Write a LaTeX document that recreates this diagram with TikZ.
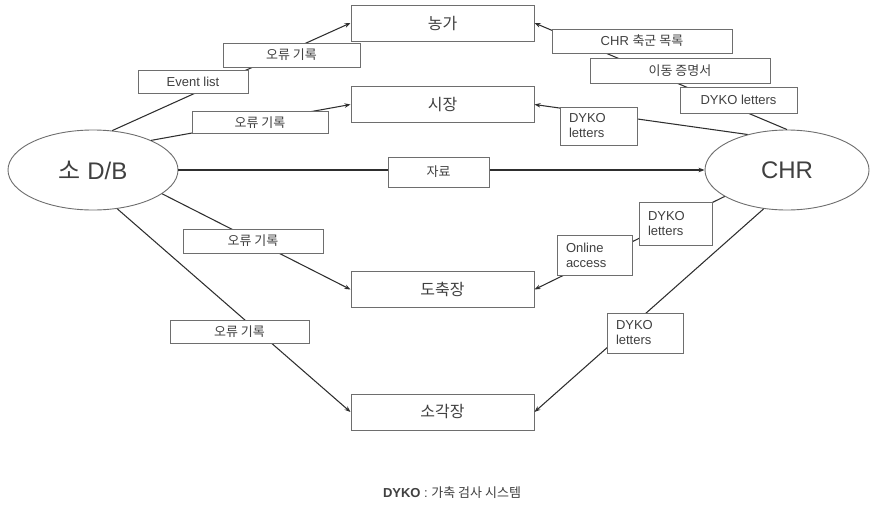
\documentclass[tikz,border=0pt]{standalone}
\usepackage{fontspec}
\setmainfont{Liberation Sans}
\newfontfamily\kr{Noto Sans CJK KR}
\usetikzlibrary{arrows.meta,shapes.geometric}

\definecolor{edgegray}{HTML}{6E6E6E}
\definecolor{wiregray}{HTML}{2E2E2E}
\definecolor{inkgray}{HTML}{404040}

\begin{document}
\begin{tikzpicture}[x=1pt,y=-1pt,
  every node/.style={inner sep=0pt, text=inkgray},
  site/.style={draw=edgegray, line width=1pt, fill=white,
    minimum width=183pt, minimum height=36pt,
    font=\kr\fontsize{16}{18}\selectfont},
  hub/.style={ellipse, draw=edgegray, line width=0.9pt, fill=white,
    minimum height=80pt, font=\fontsize{24}{28}\selectfont},
  tagbox/.style={draw=edgegray, line width=0.9pt, fill=white,
    font=\fontsize{13}{15}\selectfont},
  tagkr/.style={tagbox, font=\kr\fontsize{13}{15}\selectfont},
  stackbox/.style={tagbox, align=left, inner xsep=9pt,
    font=\fontsize{13}{15}\selectfont},
  flow/.style={draw=wiregray, line width=1.05pt,
    -{Stealth[length=6pt,width=4.5pt]}},
]
\useasboundingbox (0,0) rectangle (870,506);
\fill[white] (0,0) rectangle (870,506);

% databases
\node[hub, minimum width=170pt] (db)  at (93,170)  {{\kr 소} D/B};
\node[hub, minimum width=164pt] (chr) at (787,170) {CHR};

% destinations
\node[site] (farm)      at (442.5,23)    {농가};
\node[site] (market)    at (442.5,104.5) {시장};
\node[site] (slaughter) at (442.5,289.5) {도축장};
\node[site] (incin)     at (442.5,412)   {소각장};

% connectors from the cattle database
\draw[flow] (db.64.6) -- (farm.west);
\draw[flow] (db.27.8) -- (market.west);
\draw[flow] (db.east) -- (chr.west);
\draw[flow] (db.-19.7) -- (slaughter.west);
\draw[flow] (db.-58) -- (incin.west);

% connectors from CHR
\draw[flow] (chr.90) -- (farm.east);
\draw[flow] (chr.138.8) -- (market.east);
\draw[flow] (chr.203) -- (slaughter.east);
\draw[flow] (chr.239) -- (incin.east);

% labels on the left connectors
\node[tagkr, minimum width=137pt, minimum height=24pt] (err1) at (291.5,55)  {오류 기록};
\node[tagbox, minimum width=110pt, minimum height=23pt] (ev)  at (193,81.5)  {Event list};
\node[tagkr, minimum width=136pt, minimum height=22pt] (err2) at (260,122.5) {오류 기록};
\node[tagkr, minimum width=140pt, minimum height=24pt] (err3) at (253,241)   {오류 기록};
\node[tagkr, minimum width=139pt, minimum height=23pt] (err4) at (239.5,331.5) {오류 기록};
\node[tagkr, minimum width=101pt, minimum height=30pt] (data) at (438.5,172) {자료};

% labels on the right connectors
\node[tagbox, minimum width=180pt, minimum height=24pt] (herd) at (642,41)
  {CHR {\kr 축군 목록}};
\node[tagkr, minimum width=180pt, minimum height=25pt] (move) at (680,70.5) {이동 증명서};
\node[tagbox, minimum width=117pt, minimum height=26pt] (dy1) at (738.5,100) {DYKO letters};
\node[stackbox, text width=59pt, minimum height=38pt] (dy2) at (598.5,126)
  {DYKO\\letters};
\node[stackbox, text width=55pt, minimum height=43pt] (dy3) at (675.5,223.5)
  {DYKO\\letters};
\node[stackbox, text width=57pt, minimum height=40pt] (online) at (594.5,255)
  {Online\\access};
\node[stackbox, text width=58pt, minimum height=40pt] (dy4) at (645,333)
  {DYKO\\letters};

% legend
\node[font=\fontsize{13}{15}\selectfont] (legend) at (452,493)
  {\textbf{DYKO} : {\kr 가축 검사 시스템}};
\end{tikzpicture}
\end{document}
